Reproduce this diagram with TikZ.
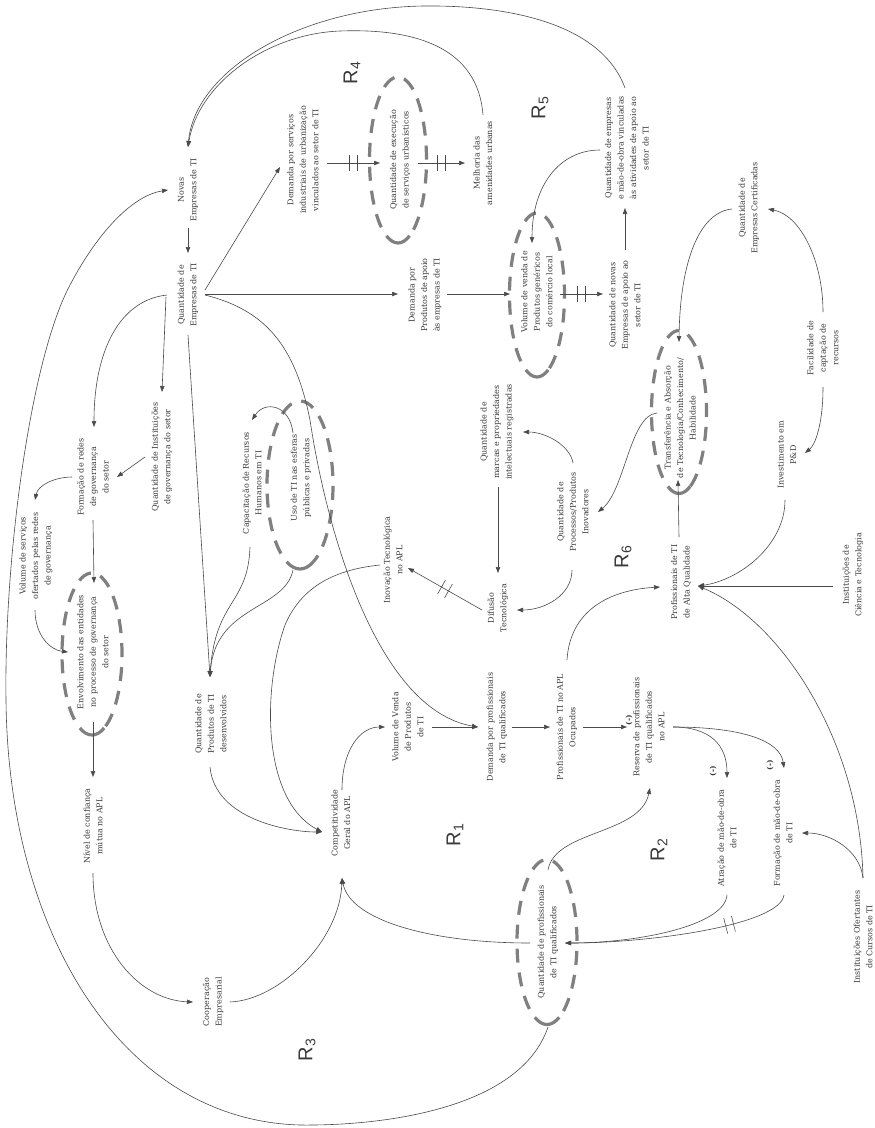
\documentclass[tikz,border=0pt]{standalone}
\usepackage{fontspec}
\setmainfont{DejaVu Serif}
\newfontfamily\loopfont{Liberation Sans}
\usetikzlibrary{arrows.meta,decorations.markings}
\definecolor{ln}{HTML}{4A4A4A}
\definecolor{txt}{HTML}{3A3A3A}
\definecolor{dsh}{HTML}{808080}
\tikzset{
  lbl/.style={rotate=90, align=center, font=\fontsize{8}{12.5}\selectfont, text=txt, inner sep=1pt},
  sign/.style={rotate=90, font=\bfseries\fontsize{7.5}{9}\selectfont, text=txt, inner sep=0pt},
  loopname/.style={rotate=90, font=\loopfont\fontsize{20}{20}\selectfont, text=txt, inner sep=0pt},
  wire/.style={draw=ln, line width=0.6pt},
  link/.style={wire, -{Triangle[length=6pt,width=4.4pt]}},
  dashring/.style={draw=dsh, line width=3.2pt, dash pattern=on 14pt off 10pt, dash phase=14pt},
  cupring/.style={draw=dsh, line width=3.2pt},
  delay/.style={postaction={decorate}, decoration={markings, mark=at position #1 with {\draw[wire,-] (-4pt,-8pt)--(-4pt,8pt) (4pt,-8pt)--(4pt,8pt);}}},
  delay/.default=0.5
}
% dashed loop ring with a solid cup at its lower end: centre, x radius, y radius
\newcommand\dashedloop[3]{%
  \draw[dashring] ([shift={({#2*cos(114)},{#3*sin(114)})}]#1) arc[start angle=114, end angle=426, x radius=#2, y radius=#3];
  \draw[cupring] ([shift={({#2*cos(66)},{#3*sin(66)})}]#1) arc[start angle=66, end angle=114, x radius=#2, y radius=#3];
}
\begin{document}
\begin{tikzpicture}[x=1pt,y=-1pt]
\fill[white] (0,0) rectangle (875,1128);
\useasboundingbox (0,0) rectangle (875,1128);

% ---------- variables ----------
\node[lbl] (nov)   at (188,190) {Novas\\Empresas de TI};
\node[lbl] (qemp)  at (188,295) {Quantidade de\\Empresas de TI};
\node[lbl] (dserv) at (303,160) {Demanda por serviços\\industriais de urbanização\\vinculados ao setor de TI};
\coordinate (eurbC) at (398,160);
\node[lbl] (eurb)  at (400,160) {Quantidade de execução\\de serviços urbanísticos};
\node[lbl] (mel)   at (483,163) {Melhoria das\\amenidades urbanas};
\node[lbl] (qemo)  at (627,148) {Quantidade de empresas\\e mão-de-obra vinculadas\\às atividades de apoio ao\\setor de TI};
\node[lbl] (qcert) at (749,208) {Quantidade de\\Empresas Certificadas};
\node[lbl] (qnov)  at (625,305) {Quantidade de novas\\Empresas de apoio ao\\setor de TI};
\coordinate (evolC) at (537,295);
\node[lbl] (evol)  at (537,292) {Volume de venda de\\Produtos genéricos\\do comércio local};
\node[lbl] (dprod) at (425,295) {Demanda por\\Produtos de apoio\\às empresas de TI};
\node[lbl] (fred)  at (93,477) {Formação de redes\\de governança\\do setor};
\node[lbl] (qinst) at (162,457) {Quantidade de Instituições\\de governança do setor};
\node[lbl] (vserv) at (36,556) {Volume de serviços\\ofertados pelas redes\\de governança};
\coordinate (eenvC) at (92,654);
\node[lbl] (eenv)  at (93,652) {Envolvimento das entidades\\no processo de governança\\do setor};
\node[lbl] (niv)   at (93,826) {Nível de confiança\\mútua no APL};
\node[lbl] (coop)  at (213,1002) {Cooperação\\Empresarial};
\node[lbl] (comp)  at (341,823) {Competitividade\\Geral do APL};
\node[lbl] (vvend) at (408,727) {Volume de Venda\\de Produtos\\de TI};
\node[lbl] (dprof) at (497,727) {Demanda por profissionais\\de TI qualificados};
\node[lbl] (pocup) at (567,727) {Profissionais de TI no APL\\Ocupados};
\node[lbl] (res)   at (649,727) {Reserva de profissionais\\de TI qualificados\\no APL};
\node[lbl] (atr)   at (727,838) {Atração de mão-de-obra\\de TI};
\node[lbl] (form)  at (783,833) {Formação de mão-de-obra\\de TI};
\node[lbl] (iofert) at (863,937) {Instituições Ofertantes\\de Cursos de TI};
\node[lbl] (palta) at (681,582) {Profissionais de TI\\de Alta Qualidade};
\node[lbl] (icien) at (853,575) {Instituições de\\Ciência e Tecnologia};
\node[lbl] (invpd) at (787,455) {Investimento em\\P\&D};
\node[lbl] (facil) at (823,348) {Facilidade de\\captação de\\recursos};
\coordinate (etransC) at (679,412);
\node[lbl] (etrans) at (680,418) {Transferência e Absorção\\de Tecnologia/Conhecimento/\\Habilidade};
\node[lbl] (qproc) at (573,512) {Quantidade de\\Processos/Produtos\\Inovadores};
\node[lbl] (qmarc) at (497,432) {Quantidade de\\marcas e propriedades\\intelectuais registradas};
\node[lbl] (dif)   at (498,608) {Difusão\\Tecnológica};
\node[lbl] (inov)  at (393,560) {Inovação Tecnológica\\no APL};
\node[lbl] (capac) at (252,483) {Capacitação de Recursos\\Humanos em TI};
\coordinate (eusoC) at (300,485);
\node[lbl] (euso)  at (301,478) {Uso de TI nas esferas\\públicas e privadas};
\node[lbl] (qprod) at (211,724) {Quantidade de\\Produtos de TI\\desenvolvidos};
\coordinate (eqprofC) at (547,942);
\node[lbl] (eqprof) at (548,942) {Quantidade de profissionais\\de TI qualificados};

% ---------- loop rings ----------
\dashedloop{eurbC}{28.5}{83}
\dashedloop{evolC}{27.5}{82}
\dashedloop{eenvC}{30}{81}
\dashedloop{etransC}{27.5}{81.5}
\dashedloop{eusoC}{33}{84}
\dashedloop{eqprofC}{30}{82.5}

% ---------- loop names ----------
\node[loopname] (r1) at (455,835) {R\textsubscript{1}};
\node[loopname] (r2) at (659,850) {R\textsubscript{2}};
\node[loopname] (r3) at (307,1050) {R\textsubscript{3}};
\node[loopname] (r4) at (352,73) {R\textsubscript{4}};
\node[loopname] (r5) at (540,108) {R\textsubscript{5}};
\node[loopname] (r6) at (623,557) {R\textsubscript{6}};

% ---------- polarity signs ----------
\node[sign] (s1) at (629,720) {(-)};
\node[sign] (s2) at (713,771) {(-)};
\node[sign] (s3) at (770,765) {(-)};

% ---------- connectors ----------
\draw[link] ([shift={(0,38)}]nov.center) -- ([shift={(0,-42)}]qemp.center);
\draw[link] ([shift={(-2,-60)}]qemo.center) .. controls (600,20) and (500,5) .. (423,6)
            .. controls (300,8) and (195,70) .. ([shift={(0,-43)}]nov.center);
\draw[link] ([shift={(0,-48)}]mel.center) .. controls (478,50) and (420,28) .. (340,31)
            .. controls (265,34) and (198,85) .. ([shift={(0,-43)}]nov.center);
\draw[link] ([shift={(17,-5)}]qemp.center) -- ([shift={(-23,7)}]dserv.center);
\draw[link,delay] ([shift={(24,3)}]dserv.center) -- ([shift={(-20,3)}]eurb.center);
\draw[link,delay] ([shift={(18,3)}]eurb.center) -- ([shift={(-18,0)}]mel.center);
\draw[link] ([shift={(17,-1)}]qemp.center) -- ([shift={(-27,-1)}]dprod.center);
\draw[link] ([shift={(22,-1)}]dprod.center) -- ([shift={(-27,2)}]evol.center);
\draw[link,delay] ([shift={(23,2)}]evol.center) -- ([shift={(-22,-11)}]qnov.center);
\draw[link] ([shift={(0,-55)}]qnov.center) -- ([shift={(-2,60)}]qemo.center);
\draw[link] ([shift={(-27,2)}]qemo.center) .. controls (560,150) and (532,185) .. ([shift={(-5,-49)}]evol.center);
\draw[link] ([shift={(-21,0)}]qemp.center) .. controls (120,300) and (94,350) .. ([shift={(1,-50)}]fred.center);
\draw[link] ([shift={(-22,2)}]qemp.center) -- ([shift={(0,-65)}]qinst.center);
\draw[link] ([shift={(-17,0)}]qinst.center) -- ([shift={(24,0)}]fred.center);
\draw[link] ([shift={(-21,0)}]fred.center) .. controls (55,477) and (38,485) .. ([shift={(-1,-56)}]vserv.center);
\draw[link] ([shift={(0,43)}]fred.center) -- ([shift={(1,-69)}]eenv.center);
\draw[link] ([shift={(-1,54)}]vserv.center) .. controls (35,635) and (50,650) .. ([shift={(-25,0)}]eenv.center);
\draw[link] ([shift={(0,70)}]eenv.center) -- ([shift={(0,-49)}]niv.center);
\draw[link] ([shift={(0,47)}]niv.center) .. controls (93,950) and (140,1000) .. ([shift={(-20,0)}]coop.center);
\draw[link] ([shift={(17,0)}]coop.center) .. controls (280,1000) and (340,940) .. ([shift={(1,55)}]comp.center);
\draw[link] ([shift={(-18,1)}]eqprof.center) .. controls (430,943) and (350,920) .. ([shift={(1,55)}]comp.center);
\draw[link] ([shift={(-1,43)}]qprod.center) .. controls (215,820) and (290,832) .. ([shift={(-19,9)}]comp.center);
\draw[link] ([shift={(-13,5)}]inov.center) .. controls (330,570) and (300,590) .. (285,625)
            .. controls (262,690) and (262,800) .. ([shift={(-19,9)}]comp.center);
\draw[link] ([shift={(1,-33)}]comp.center) .. controls (342,750) and (360,727) .. ([shift={(-23,0)}]vvend.center);
\draw[link] ([shift={(24,0)}]vvend.center) -- ([shift={(-19,0)}]dprof.center);
\draw[link] ([shift={(17,0)}]qemp.center) .. controls (265,310) and (295,345) .. (310,420)
            .. controls (328,540) and (380,710) .. ([shift={(-19,0)}]dprof.center);
\draw[link] ([shift={(15,0)}]dprof.center) -- ([shift={(-17,0)}]pocup.center);
\draw[link] ([shift={(16,0)}]pocup.center) -- ([shift={(-22,0)}]res.center);
\draw[link] ([shift={(0,-67)}]pocup.center) .. controls (570,610) and (610,590) .. ([shift={(-21,5)}]palta.center);
\draw[link] ([shift={(24,0)}]res.center) .. controls (710,727) and (727,745) .. ([shift={(0,-60)}]atr.center);
\draw[link] ([shift={(24,0)}]res.center) .. controls (740,727) and (780,740) .. ([shift={(1,-65)}]form.center);
\draw[link] ([shift={(0,-59)}]iofert.center) .. controls (860,850) and (830,833) .. ([shift={(19,0)}]form.center);
\draw[link] ([shift={(0,-59)}]iofert.center) .. controls (860,740) and (780,620) .. ([shift={(17,4)}]palta.center);
\draw[link] ([shift={(-20,11)}]icien.center) -- ([shift={(17,4)}]palta.center);
\draw[link] ([shift={(-2,45)}]invpd.center) .. controls (785,545) and (740,580) .. ([shift={(17,4)}]palta.center);
\draw[link] ([shift={(-2,-45)}]palta.center) -- ([shift={(-1,68)}]etransC);
\draw[link] ([shift={(0,39)}]facil.center) .. controls (823,425) and (815,445) .. ([shift={(18,-2)}]invpd.center);
\draw[link] ([shift={(0,-36)}]facil.center) .. controls (823,260) and (800,215) .. ([shift={(19,1)}]qcert.center);
\draw[link] ([shift={(-17,1)}]qcert.center) .. controls (700,212) and (680,260) .. ([shift={(0,-70)}]etransC);
\draw[link] ([shift={(-23,-5)}]etrans.center) .. controls (630,415) and (625,490) .. ([shift={(25,0)}]qproc.center);
\draw[link] ([shift={(0,-49)}]qproc.center) .. controls (570,445) and (545,432) .. ([shift={(26,0)}]qmarc.center);
\draw[link] ([shift={(-1,58)}]qproc.center) .. controls (572,595) and (545,610) .. ([shift={(19,2)}]dif.center);
\draw[link] ([shift={(1,55)}]qmarc.center) -- ([shift={(0,-35)}]dif.center);
\draw[link,delay] ([shift={(-16,2)}]dif.center) -- ([shift={(15,8)}]inov.center);
\draw[link] ([shift={(-8,-45)}]euso.center) .. controls (290,405) and (265,400) .. ([shift={(0,-63)}]capac.center);
\draw[link] ([shift={(-2,64)}]capac.center) .. controls (248,605) and (215,600) .. ([shift={(-1,-47)}]qprod.center);
\draw[link] ([shift={(-8,92)}]euso.center) .. controls (285,610) and (215,605) .. ([shift={(-1,-47)}]qprod.center);
\draw[link] ([shift={(0,40)}]qemp.center) -- ([shift={(-1,-47)}]qprod.center);
\draw[link] ([shift={(0,-72)}]eqprof.center) .. controls (555,830) and (640,835) .. ([shift={(1,61)}]res.center);
\draw[link] ([shift={(0,57)}]atr.center) .. controls (725,925) and (640,943) .. ([shift={(17,1)}]eqprof.center);
\draw[link,delay=0.28] ([shift={(1,62)}]form.center) .. controls (780,925) and (650,943) .. ([shift={(17,1)}]eqprof.center);
\draw[link] ([shift={(0,85)}]eqprof.center) .. controls (520,1110) and (380,1126) .. (300,1125)
            .. controls (120,1120) and (8,930) .. (6,700)
            .. controls (4,560) and (30,360) .. (70,285)
            .. controls (100,228) and (135,195) .. ([shift={(-20,0)}]nov.center);
\end{tikzpicture}
\end{document}
